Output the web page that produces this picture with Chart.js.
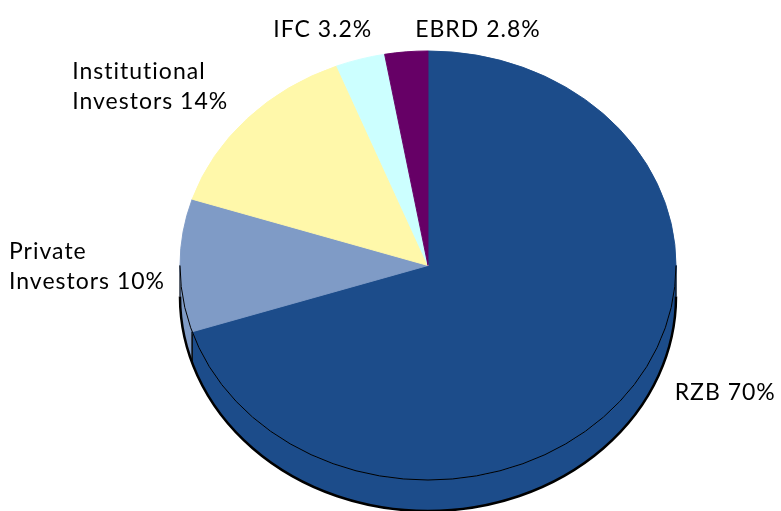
<!DOCTYPE html>
<html>
<head>
<meta charset="utf-8">
<script src="https://cdn.jsdelivr.net/npm/chart.js@4.4.1/dist/chart.umd.min.js"></script>
<style>
html, body { margin: 0; padding: 0; background: #fff; overflow: hidden; }
#wrap { width: 781px; height: 511px; }
</style>
</head>
<body>
<div id="wrap"><canvas id="myChart" width="781" height="511"></canvas></div>
<script>
// shareholders, in drawing order (clockwise from 12 o'clock)
var categories = ['RZB', 'Private Investors', 'Institutional Investors', 'IFC', 'EBRD'];
var shares = [70, 10, 14, 3.2, 2.8];
var sliceColors = ['#1c4c8a', '#7f9bc6', '#fff8aa', '#ccffff', '#660066'];

// where each label sits relative to the rim point at the middle of its slice
var labelPlace = [
	{ side: 'left',  dx: 46,  dy: 8 },
	{ side: 'right', dx: -15, dy: -7 },
	{ side: 'right', dx: -19, dy: -40 },
	{ side: 'right', dx: 12,  dy: -22 },
	{ side: 'left',  dx: 9,   dy: -15 }
];

var TILT = 0.865;   // vertical squash of the pie
var DEPTH = 31;     // thickness of the pie
var FONT = '23px Lato';
var LINE_H = 30;

function labelLines(i) {
	var words = categories[i].split(' ');
	var tail = shares[i] + '%';
	if (words.length > 1) {
		return [words[0], words.slice(1).join(' ') + ' ' + tail];
	}
	return [categories[i] + ' ' + tail];
}

var pie3d = {
	id: 'pie3d',
	beforeDatasetsDraw: function(chart) {
		var ctx = chart.ctx;
		var arcs = chart.getDatasetMeta(0).data;
		var cx = arcs[0].x, cy = arcs[0].y, r = arcs[0].outerRadius;

		ctx.save();
		// side wall: only the front half of the rim can be seen
		var edges = [];
		arcs.forEach(function(arc, i) {
			[0, 2 * Math.PI].forEach(function(shift) {
				var s = Math.max(arc.startAngle - shift, 0);
				var e = Math.min(arc.endAngle - shift, Math.PI);
				if (e <= s) return;
				ctx.beginPath();
				ctx.ellipse(cx, cy, r, r * TILT, 0, s, e, false);
				ctx.ellipse(cx, cy + DEPTH, r, r * TILT, 0, e, s, true);
				ctx.closePath();
				ctx.fillStyle = sliceColors[i];
				ctx.strokeStyle = sliceColors[i];
				ctx.lineWidth = 1;
				ctx.fill();
				ctx.stroke();
				edges.push(s, e);
			});
		});

		ctx.strokeStyle = '#000';
		ctx.lineWidth = 1;
		edges.forEach(function(a) {
			var x = cx + r * Math.cos(a), y = cy + r * TILT * Math.sin(a);
			ctx.beginPath();
			ctx.moveTo(x, y);
			ctx.lineTo(x, y + DEPTH);
			ctx.stroke();
		});
		ctx.lineWidth = 2.5;
		ctx.beginPath();
		ctx.ellipse(cx, cy + DEPTH, r, r * TILT, 0, 0, Math.PI, false);
		ctx.stroke();

		// the top face is the normal pie, squashed
		ctx.translate(cx, cy);
		ctx.scale(1, TILT);
		ctx.translate(-cx, -cy);
	},
	afterDatasetsDraw: function(chart) {
		var ctx = chart.ctx;
		ctx.restore();
		var a = chart.getDatasetMeta(0).data[0];
		ctx.save();
		ctx.strokeStyle = '#000';
		ctx.lineWidth = 1;
		ctx.beginPath();
		ctx.ellipse(a.x, a.y, a.outerRadius, a.outerRadius * TILT, 0, 0, Math.PI, false);
		ctx.stroke();
		ctx.restore();
	},
	afterDraw: function(chart) {
		var ctx = chart.ctx;
		var arcs = chart.getDatasetMeta(0).data;
		ctx.save();
		ctx.font = FONT;
		ctx.letterSpacing = '1px';
		ctx.fillStyle = '#000';
		ctx.textAlign = 'left';
		ctx.textBaseline = 'alphabetic';
		arcs.forEach(function(arc, i) {
			var mid = (arc.startAngle + arc.endAngle) / 2;
			var px = arc.x + arc.outerRadius * Math.cos(mid);
			var py = arc.y + arc.outerRadius * TILT * Math.sin(mid);
			var lines = labelLines(i);
			var w = 0;
			lines.forEach(function(t) { w = Math.max(w, ctx.measureText(t).width); });
			var p = labelPlace[i];
			var left = p.side === 'right' ? px + p.dx - w : px + p.dx;
			lines.forEach(function(t, j) {
				ctx.fillText(t, left, py + p.dy + j * LINE_H);
			});
		});
		ctx.restore();
	}
};

var ctx = document.getElementById('myChart');
var myChart = new Chart(ctx, {
	type: 'pie',
	data: {
		labels: categories,
		datasets: [{
			data: shares,
			backgroundColor: sliceColors,
			borderColor: sliceColors,
			borderWidth: 1,
			radius: 248,
			clip: false
		}]
	},
	options: {
		responsive: false,
		animation: false,
		devicePixelRatio: 1,
		layout: { padding: { left: 75, top: 20, right: 0, bottom: 0 } },
		plugins: {
			legend: { display: false },
			tooltip: { enabled: false }
		}
	},
	plugins: [pie3d]
});
</script>
</body>
</html>
